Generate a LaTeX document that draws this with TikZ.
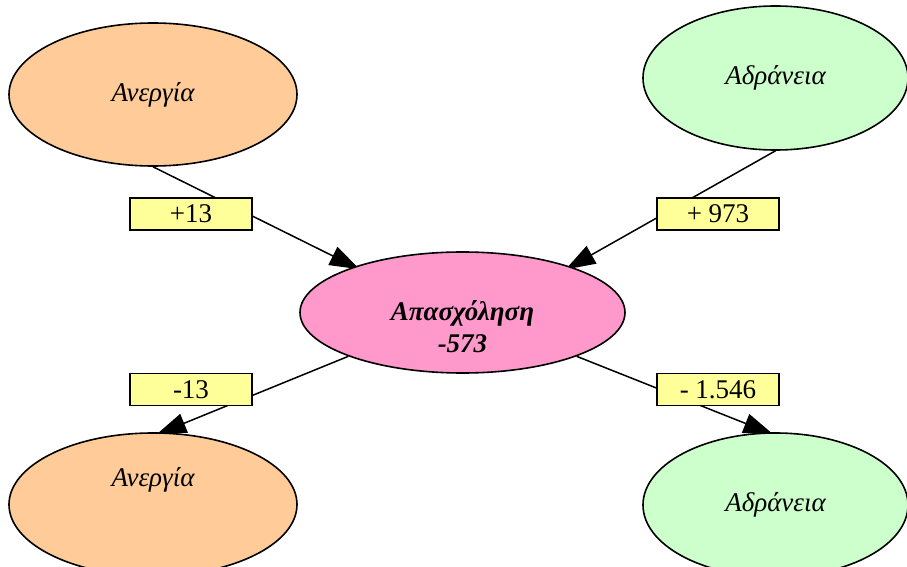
\documentclass[tikz,border=0pt]{standalone}
\usepackage{fontspec}
\setmainfont{Liberation Serif}
\usetikzlibrary{arrows.meta,shapes.geometric,backgrounds}
\definecolor{peach}{HTML}{FFCC99}
\definecolor{mint}{HTML}{CCFFCC}
\definecolor{rose}{HTML}{FF99CC}
\definecolor{lemon}{HTML}{FFFF99}

\begin{document}
\begin{tikzpicture}[
    x=0.5pt, y=-0.5pt,
    unemp/.style={ellipse, draw=black, line width=0.8pt, fill=peach, minimum width=144pt, minimum height=71.5pt, inner sep=0pt, font=\fontsize{13.5}{16}\selectfont\itshape},
    inact/.style={ellipse, draw=black, line width=0.8pt, fill=mint, minimum width=132.5pt, minimum height=72pt, inner sep=0pt, font=\fontsize{13.5}{16}\selectfont\itshape},
    empl/.style={ellipse, draw=black, line width=0.8pt, fill=rose, minimum width=162.5pt, minimum height=60.5pt, inner sep=0pt},
    lbl/.style={font=\fontsize{13.5}{16}\selectfont\itshape, inner sep=1pt, align=center},
    valbox/.style={draw=black, fill=lemon, line width=0.75pt, minimum width=61pt, minimum height=16pt, inner sep=0pt, font=\fontsize{13.5}{16}\selectfont},
    conn/.style={draw=black, line width=0.75pt, -{Triangle[length=15pt,width=10pt]}, shorten >=-3pt}
]
    \useasboundingbox (0,0) rectangle (907,567);

    % Ellipses
    \node[unemp] (un1) at (153,94.5) {Ανεργία};
    \node[inact] (in1) at (775.5,78) {Αδράνεια};
    \node[empl] (emp) at (462.5,312.5) {};
    \node[lbl, font=\fontsize{13.5}{16}\selectfont\bfseries\itshape] (empt) at (462.5,327) {Απασχόληση\\-573};
    \node[unemp] (un2) at (153,504.5) {};
    \node[lbl] (un2t) at (153,480) {Ανεργία};
    \node[inact] (in2) at (775.5,505) {Αδράνεια};

    % Flows (under the ellipses)
    \begin{scope}[on background layer]
        \draw[conn] (un1.south) -- (emp.157);
        \draw[conn] (in1.south) -- (emp.23);
        \draw[conn] (emp.201) -- (un2.83);
        \draw[conn] (emp.-21) -- (in2.96);
    \end{scope}

    % Values
    \node[valbox] (v1) at (191,214) {+13};
    \node[valbox] (v2) at (718,214) {+ 973};
    \node[valbox] (v3) at (191,389.5) {-13};
    \node[valbox] (v4) at (718,389.5) {- 1.546};
\end{tikzpicture}
\end{document}
